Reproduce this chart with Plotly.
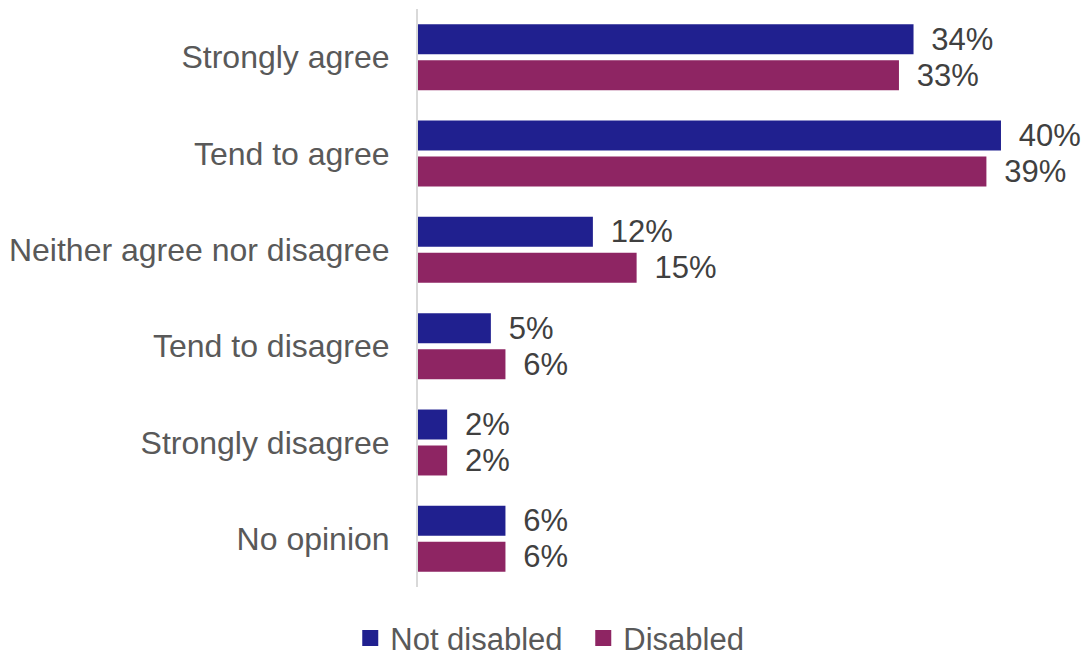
import plotly.graph_objects as go

categories = [
    "Strongly agree",
    "Tend to agree",
    "Neither agree nor disagree",
    "Tend to disagree",
    "Strongly disagree",
    "No opinion",
]
not_disabled = [34, 40, 12, 5, 2, 6]
disabled = [33, 39, 15, 6, 2, 6]

NAVY = "#20208F"
PLUM = "#8E2563"
FONT = "Liberation Sans, Arial, sans-serif"
PAD = "\u00a0\u2009"

fig = go.Figure()
for name, vals, color in [
    ("Not disabled", not_disabled, NAVY),
    ("Disabled", disabled, PLUM),
]:
    fig.add_trace(
        go.Bar(
            y=categories,
            x=vals,
            name=name,
            orientation="h",
            marker=dict(color=color, line=dict(width=0)),
            text=[f"{PAD}{v}%" for v in vals],
            textposition="outside",
            constraintext="none",
            textfont=dict(family=FONT, size=31, color="#404040"),
            cliponaxis=False,
            showlegend=False,
        )
    )
    # legend entry with a larger square swatch
    fig.add_trace(
        go.Scatter(
            x=[None],
            y=[None],
            mode="markers",
            name=name,
            marker=dict(symbol="square", size=18, color=color),
            showlegend=True,
        )
    )

fig.update_layout(
    width=1084,
    height=657,
    margin=dict(l=418, r=82, t=9, b=70, autoexpand=False),
    paper_bgcolor="white",
    plot_bgcolor="white",
    barmode="group",
    bargap=0.253,
    bargroupgap=0.167,
    font=dict(family=FONT, size=32, color="#595959"),
    showlegend=True,
    legend=dict(
        orientation="h",
        x=-0.116,
        xanchor="left",
        y=-0.089,
        yanchor="middle",
        font=dict(family=FONT, size=31, color="#595959"),
        entrywidth=188,
        tracegroupgap=0,
    ),
    xaxis=dict(
        range=[0, 40.07],
        visible=False,
        showgrid=False,
        zeroline=False,
    ),
    yaxis=dict(
        autorange="reversed",
        showline=True,
        linecolor="#D9D9D9",
        linewidth=2,
        ticks="",
        ticklabelstandoff=20,
        tickfont=dict(family=FONT, size=32, color="#595959"),
        showgrid=False,
    ),
)

fig.write_html("out.html")
